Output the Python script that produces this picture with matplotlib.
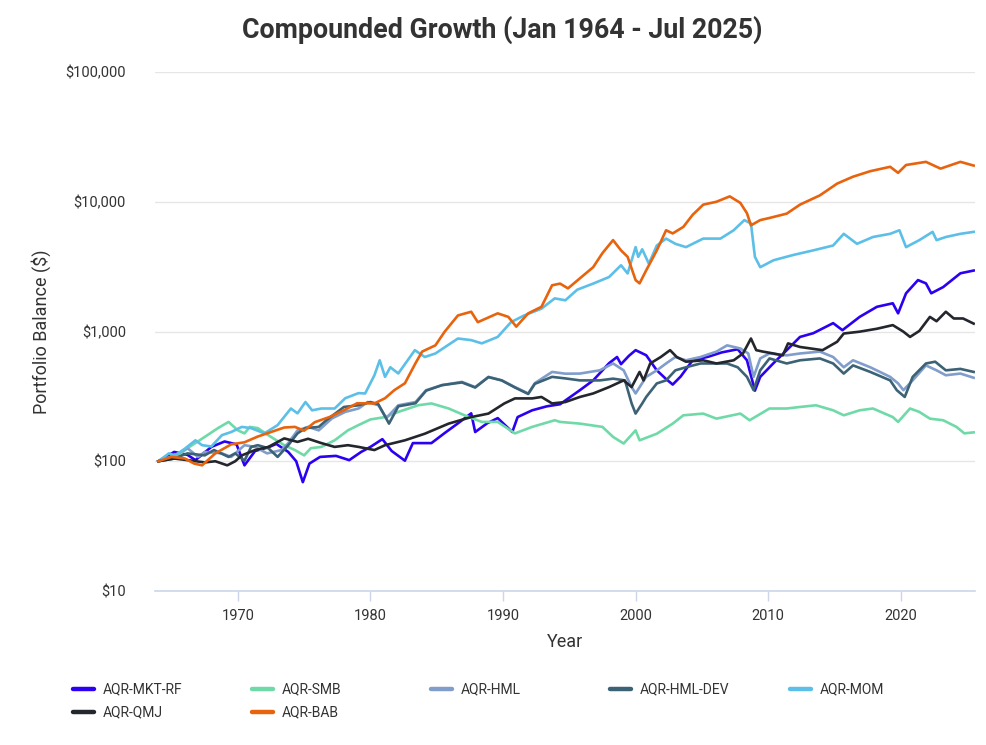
import matplotlib
matplotlib.use("Agg")
import matplotlib.pyplot as plt
from matplotlib.lines import Line2D
from matplotlib.ticker import FixedLocator, NullLocator

plt.rcParams['font.family'] = ['Roboto', 'DejaVu Sans']

# ---------------- data ----------------
mkt_years = [1964.0, 1965.2, 1966.2, 1966.8, 1968.0, 1969.0, 1969.9, 1970.5, 1971.3, 1972.3, 1972.9, 1973.8, 1974.4, 1974.9, 1975.4, 1976.2, 1977.4, 1978.4, 1979.3, 1980.0, 1980.9, 1981.6, 1982.6, 1983.2, 1984.6, 1985.6, 1986.6, 1987.6, 1987.9, 1988.8, 1989.6, 1990.7, 1991.1, 1992.2, 1993.3, 1994.3, 1995.8, 1996.8, 1998.0, 1998.6, 1998.9, 1999.5, 2000.0, 2000.8, 2001.6, 2002.3, 2002.8, 2003.4, 2004.3, 2005.5, 2006.5, 2007.7, 2008.4, 2009.0, 2009.4, 2010.4, 2011.4, 2012.4, 2013.4, 2014.9, 2015.6, 2016.9, 2018.2, 2019.4, 2019.8, 2020.4, 2021.3, 2021.9, 2022.3, 2023.2, 2024.5, 2025.5]
mkt_values = [100, 118, 112, 102, 129, 142, 135, 93, 120, 128, 136, 118, 100, 69, 96, 108, 110, 102, 118, 129, 148, 120, 101, 138, 138, 165, 196, 234, 168, 196, 215, 168, 219, 247, 265, 275, 353, 420, 570, 636, 560, 650, 718, 656, 502, 430, 390, 450, 600, 640, 690, 730, 600, 350, 447, 570, 718, 908, 970, 1160, 1024, 1296, 1550, 1650, 1380, 1970, 2490, 2350, 1970, 2200, 2810, 2950]

smb_years = [1964.0, 1965.2, 1966.2, 1967.5, 1968.5, 1969.3, 1970.0, 1970.5, 1970.9, 1971.5, 1972.5, 1973.5, 1974.3, 1975.0, 1975.5, 1976.3, 1977.3, 1978.3, 1979.1, 1980.0, 1981.1, 1982.1, 1983.6, 1984.6, 1985.9, 1987.1, 1988.4, 1989.6, 1990.9, 1992.2, 1993.9, 1994.3, 1995.8, 1997.5, 1998.3, 1999.1, 2000.0, 2000.3, 2001.6, 2002.8, 2003.6, 2005.1, 2006.1, 2007.9, 2008.6, 2010.1, 2011.4, 2012.4, 2013.6, 2014.9, 2015.7, 2016.9, 2017.9, 2019.4, 2019.8, 2020.7, 2021.4, 2022.2, 2023.2, 2024.2, 2024.8, 2025.5]
smb_values = [100, 105, 126, 154, 180, 201, 173, 164, 184, 180, 154, 133, 122, 111, 126, 129, 145, 173, 190, 210, 219, 240, 270, 279, 255, 226, 201, 201, 164, 184, 207, 201, 195, 184, 154, 137, 173, 145, 163, 195, 226, 233, 213, 233, 207, 255, 255, 262, 270, 247, 226, 247, 255, 219, 201, 255, 240, 213, 207, 184, 164, 167]

hml_years = [1964.0, 1965.2, 1966.2, 1967.0, 1967.5, 1968.8, 1969.5, 1970.5, 1971.3, 1972.2, 1973.3, 1973.8, 1974.5, 1975.3, 1976.1, 1977.1, 1978.1, 1979.1, 1979.8, 1980.6, 1981.2, 1982.1, 1983.4, 1984.2, 1985.4, 1986.9, 1987.9, 1988.9, 1989.9, 1990.9, 1991.9, 1992.4, 1993.7, 1994.7, 1995.8, 1997.3, 1998.3, 1999.1, 1999.7, 2000.0, 2000.8, 2001.6, 2002.3, 2003.0, 2003.8, 2004.9, 2006.1, 2006.9, 2007.9, 2008.5, 2008.9, 2009.4, 2010.1, 2011.4, 2012.4, 2013.9, 2014.9, 2015.7, 2016.4, 2017.7, 2019.2, 2019.8, 2020.2, 2020.9, 2021.9, 2022.7, 2023.4, 2024.5, 2025.5]
hml_values = [100, 111, 126, 108, 118, 115, 108, 133, 129, 115, 122, 138, 173, 184, 173, 214, 240, 255, 286, 270, 215, 270, 286, 353, 386, 409, 373, 447, 420, 373, 333, 400, 488, 473, 474, 502, 567, 502, 373, 333, 447, 502, 567, 636, 600, 636, 700, 782, 740, 677, 447, 620, 677, 655, 677, 700, 636, 530, 600, 530, 447, 398, 353, 420, 548, 502, 460, 474, 440]

hmldev_years = [1964.0, 1965.2, 1966.2, 1967.5, 1968.2, 1969.3, 1969.8, 1970.5, 1971.0, 1971.5, 1972.3, 1973.0, 1973.8, 1974.5, 1975.1, 1976.1, 1976.7, 1978.0, 1979.1, 1980.0, 1980.6, 1981.4, 1982.1, 1983.4, 1984.2, 1985.4, 1986.9, 1987.9, 1988.9, 1989.9, 1990.9, 1991.9, 1992.4, 1993.7, 1994.7, 1995.8, 1997.3, 1998.3, 1999.2, 1999.7, 2000.0, 2000.5, 2000.8, 2001.6, 2002.3, 2003.0, 2003.8, 2004.9, 2006.1, 2006.9, 2007.7, 2008.4, 2008.9, 2009.4, 2010.1, 2011.4, 2012.4, 2013.9, 2014.9, 2015.7, 2016.4, 2017.7, 2019.2, 2019.7, 2020.3, 2020.9, 2021.9, 2022.6, 2023.4, 2024.5, 2025.5]
hmldev_values = [100, 105, 115, 111, 122, 108, 115, 101, 129, 133, 126, 108, 133, 164, 180, 184, 208, 262, 270, 286, 275, 195, 265, 280, 350, 386, 405, 370, 445, 420, 370, 330, 395, 447, 435, 420, 420, 433, 420, 279, 233, 279, 313, 398, 420, 502, 530, 567, 567, 567, 530, 447, 353, 502, 620, 567, 600, 620, 567, 474, 548, 488, 420, 353, 313, 447, 567, 585, 502, 515, 488]

mom_years = [1964.0, 1964.8, 1965.3, 1966.0, 1966.8, 1967.3, 1968.0, 1968.8, 1969.5, 1970.3, 1971.0, 1972.0, 1973.0, 1974.0, 1974.5, 1975.1, 1975.6, 1976.3, 1977.3, 1978.1, 1979.1, 1979.6, 1980.3, 1980.7, 1981.1, 1981.5, 1982.1, 1983.35, 1984.1, 1984.9, 1986.6, 1987.6, 1988.4, 1989.6, 1990.6, 1991.6, 1992.9, 1993.9, 1994.7, 1995.6, 1996.8, 1998.0, 1998.9, 1999.4, 2000.0, 2000.2, 2000.5, 2001.0, 2001.6, 2002.3, 2003.0, 2003.8, 2005.1, 2006.4, 2007.4, 2008.2, 2008.7, 2009.0, 2009.4, 2010.4, 2011.9, 2013.4, 2014.9, 2015.7, 2016.7, 2017.9, 2019.2, 2019.9, 2020.4, 2021.4, 2022.4, 2022.7, 2023.4, 2024.5, 2025.5]
mom_values = [100, 115, 111, 125, 145, 133, 130, 159, 168, 184, 180, 164, 190, 255, 234, 286, 247, 255, 255, 306, 335, 333, 460, 600, 447, 530, 475, 718, 636, 677, 883, 858, 810, 908, 1180, 1330, 1500, 1800, 1740, 2100, 2340, 2630, 3240, 2800, 4470, 3760, 4300, 3330, 4600, 5200, 4740, 4470, 5200, 5200, 6030, 7220, 6800, 3760, 3130, 3540, 3890, 4220, 4600, 5660, 4740, 5350, 5660, 6030, 4470, 5060, 5860, 5060, 5350, 5660, 5860]

qmj_years = [1964.0, 1965.2, 1966.2, 1967.5, 1968.3, 1969.2, 1969.8, 1970.3, 1971.3, 1972.3, 1973.5, 1974.5, 1975.3, 1976.3, 1977.3, 1978.3, 1979.1, 1980.3, 1981.1, 1982.6, 1984.1, 1985.9, 1987.6, 1988.9, 1990.1, 1990.9, 1992.2, 1992.9, 1993.7, 1994.7, 1995.8, 1996.8, 1998.0, 1999.1, 1999.7, 2000.3, 2000.6, 2001.1, 2001.9, 2002.6, 2003.1, 2003.8, 2005.1, 2006.1, 2007.4, 2008.1, 2008.7, 2009.1, 2009.6, 2010.4, 2011.1, 2011.5, 2012.4, 2014.1, 2015.2, 2015.7, 2016.9, 2018.2, 2019.4, 2020.2, 2020.7, 2021.4, 2022.2, 2022.7, 2023.4, 2024.0, 2024.7, 2025.5]
qmj_values = [100, 105, 102, 98, 100, 93, 100, 111, 122, 129, 150, 141, 149, 138, 129, 133, 129, 122, 133, 145, 163, 195, 219, 233, 279, 305, 305, 313, 279, 286, 313, 333, 373, 420, 373, 488, 420, 567, 636, 718, 636, 585, 600, 567, 600, 677, 883, 718, 700, 677, 655, 810, 760, 718, 833, 965, 997, 1050, 1120, 997, 908, 1010, 1296, 1200, 1420, 1260, 1260, 1150]

bab_years = [1964.0, 1965.0, 1966.0, 1966.7, 1967.3, 1968.3, 1969.5, 1970.5, 1971.5, 1972.5, 1973.5, 1974.3, 1975.0, 1975.8, 1976.9, 1978.0, 1979.0, 1980.3, 1981.1, 1981.8, 1982.6, 1983.4, 1983.9, 1984.9, 1985.6, 1986.6, 1987.6, 1988.1, 1989.6, 1990.4, 1991.0, 1991.9, 1992.9, 1993.7, 1994.3, 1994.9, 1995.8, 1996.8, 1997.5, 1998.3, 1998.9, 1999.4, 2000.0, 2000.3, 2000.8, 2001.6, 2002.3, 2002.8, 2003.6, 2004.3, 2005.1, 2006.1, 2007.1, 2007.9, 2008.4, 2008.7, 2009.4, 2010.1, 2011.4, 2012.4, 2013.9, 2015.2, 2016.4, 2017.7, 2019.2, 2019.8, 2020.4, 2021.9, 2023.0, 2024.5, 2025.5]
bab_values = [100, 108, 105, 96, 93, 115, 135, 140, 155, 168, 182, 184, 172, 200, 219, 247, 280, 279, 306, 353, 399, 570, 700, 782, 997, 1330, 1420, 1180, 1380, 1296, 1090, 1380, 1550, 2270, 2340, 2150, 2570, 3130, 4020, 5060, 4220, 3760, 2490, 2350, 2960, 4220, 6030, 5700, 6400, 7920, 9500, 10000, 11000, 9800, 8160, 6580, 7220, 7500, 8100, 9500, 11200, 13800, 15600, 17200, 18600, 16700, 19200, 20300, 18000, 20300, 19000]

series_names = ["AQR-MKT-RF", "AQR-SMB", "AQR-HML", "AQR-HML-DEV", "AQR-MOM", "AQR-QMJ", "AQR-BAB"]
series_colors = ["#2c00f2", "#6fdaa8", "#809dcb", "#3c6275", "#5cbfe8", "#23262c", "#e8630d"]
series_data = [(mkt_years, mkt_values), (smb_years, smb_values), (hml_years, hml_values),
               (hmldev_years, hmldev_values), (mom_years, mom_values), (qmj_years, qmj_values),
               (bab_years, bab_values)]

y_ticks = [10, 100, 1000, 10000, 100000]
y_tick_labels = ["$10", "$100", "$1,000", "$10,000", "$100,000"]
x_ticks = [1970, 1980, 1990, 2000, 2010, 2020]
x_tick_labels = ["1970", "1980", "1990", "2000", "2010", "2020"]

# ---------------- figure ----------------
W, H = 987, 745
fig = plt.figure(figsize=(W / 100, H / 100), dpi=100)
ax = fig.add_axes([155 / W, 1 - 591 / H, (975 - 155) / W, (591 - 72) / H])

for (xs, ys), name, col in zip(series_data, series_names, series_colors):
    ax.plot(xs, ys, color=col, lw=1.9, label=name, solid_joinstyle='round')

ax.set_yscale('log')
ax.set_ylim(10, 100000)
ax.set_xlim(1963.75, 2025.6)

ax.yaxis.set_major_locator(FixedLocator(y_ticks))
ax.yaxis.set_minor_locator(NullLocator())
ax.set_yticklabels(y_tick_labels)
ax.set_xticks(x_ticks)
ax.set_xticklabels(x_tick_labels)

ax.grid(axis='y', color='#e6e6e6', lw=1)
ax.set_axisbelow(True)
for s in ['top', 'right', 'left']:
    ax.spines[s].set_visible(False)
ax.spines['bottom'].set_color('#ccd6eb')
ax.spines['bottom'].set_linewidth(1.2)

ax.tick_params(axis='y', length=0, pad=21, labelsize=10.5, labelcolor='#333333')
ax.tick_params(axis='x', length=7, width=1, color='#ccd6eb', pad=6, labelsize=10.5, labelcolor='#333333')

ax.set_xlabel("Year", fontsize=13, color='#333333', labelpad=7)
ax.set_ylabel("Portfolio Balance ($)", fontsize=13, color='#333333', labelpad=10)

fig.text(502 / W, 1 - 30 / H, "Compounded Growth (Jan 1964 - Jul 2025)", ha='center', va='center',
         fontsize=19.3, fontweight='bold', color='#333333')

# legend laid out as in the reference (5 columns, row-major)
col_x = [73, 252, 431, 610, 790]
row_y = [689, 712]
for i, (name, col) in enumerate(zip(series_names, series_colors)):
    r, c = divmod(i, 5)
    x0, y0 = col_x[c], row_y[r]
    fig.add_artist(Line2D([x0 / W, (x0 + 21) / W], [1 - y0 / H, 1 - y0 / H], color=col, lw=3.2,
                          transform=fig.transFigure, solid_capstyle='round'))
    fig.text((x0 + 30) / W, 1 - y0 / H, name, ha='left', va='center', fontsize=10, color='#333333')

fig.savefig("out.png", dpi=100)
